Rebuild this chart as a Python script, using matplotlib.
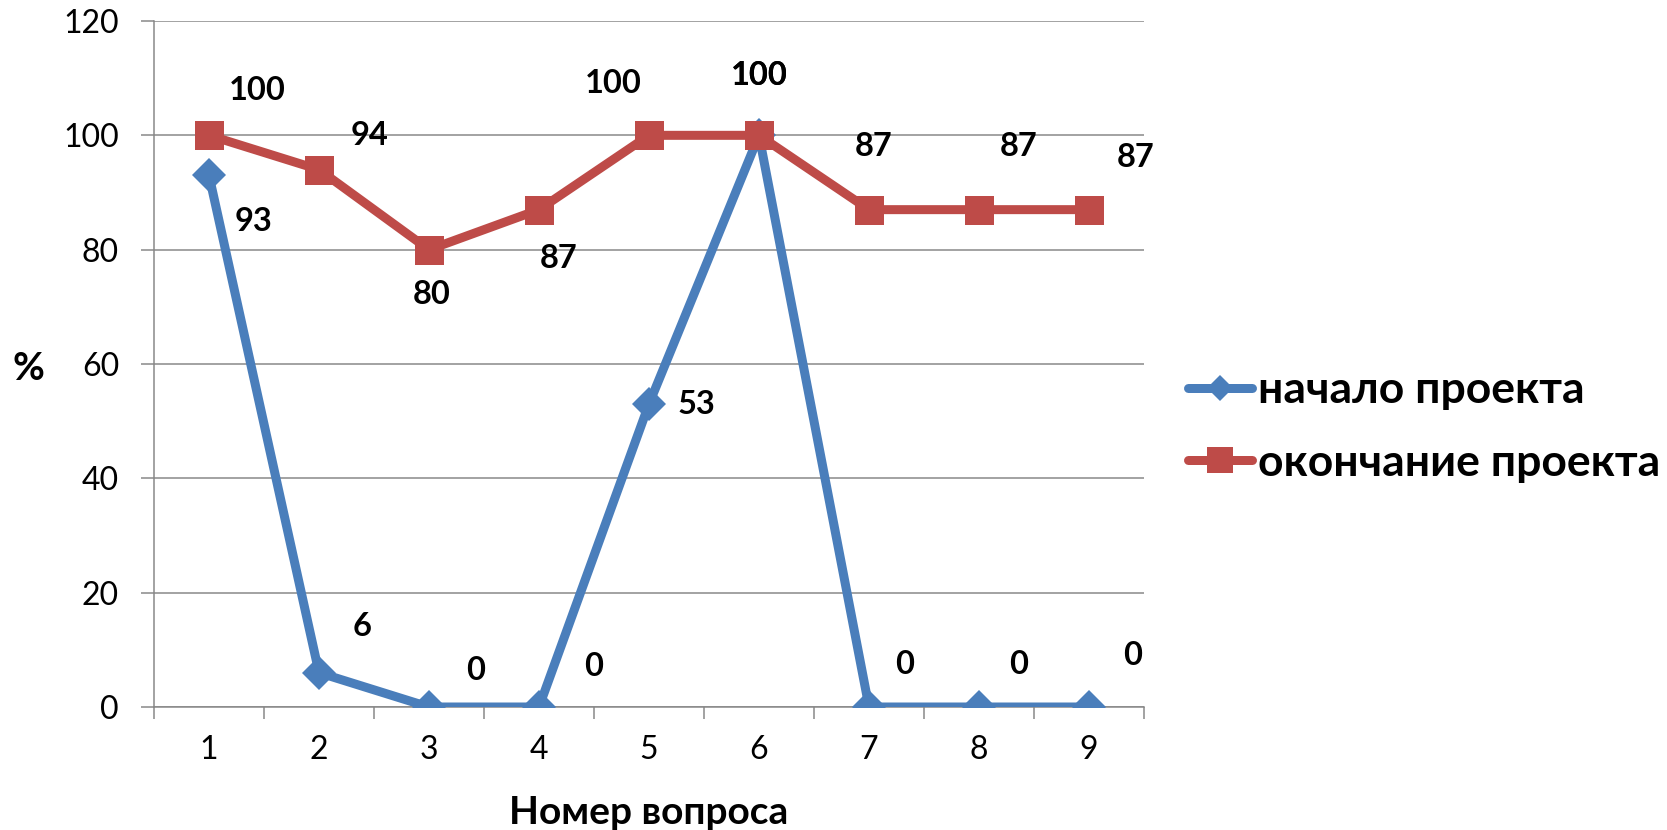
import matplotlib
matplotlib.use("Agg")
import matplotlib.pyplot as plt
from matplotlib.lines import Line2D

questions = [1, 2, 3, 4, 5, 6, 7, 8, 9]
start_vals = [93, 6, 0, 0, 53, 100, 0, 0, 0]
end_vals = [100, 94, 80, 87, 100, 100, 87, 87, 87]
series_names = ["начало проекта", "окончание проекта"]
x_title = "Номер вопроса"
y_title = "%"
y_ticks = [0, 20, 40, 60, 80, 100, 120]

# label offsets in pixels (dx right, dy down)
start_offsets = [(44, 46), (43, -46), (47, -37), (55, -41), (47, 0), (0, -60), (36, -43), (40, -43), (44, -52)]
end_offsets = [(48, -45), (51, -34), (3, 45), (20, 49), (-36, -52), (0, -60), (5, -63), (40, -63), (47, -52)]

plt.rcParams['font.family'] = ['Lato', 'Open Sans', 'DejaVu Sans']

BLUE = "#4A7EBB"
RED = "#BE4B48"
GRID = "#868686"
PX = 0.72  # points per pixel at dpi 100

fig = plt.figure(figsize=(16.67, 8.30), dpi=100)
ax = fig.add_axes([154/1667, 123/830, 990/1667, 686/830])

ax.plot(questions, start_vals, color=BLUE, lw=9*PX, marker='D', markersize=24*PX,
        markeredgewidth=0, solid_capstyle='round', zorder=3)
ax.plot(questions, end_vals, color=RED, lw=9*PX, marker='s', markersize=29*PX,
        markeredgewidth=0, zorder=4)

for q, v, (dx, dy) in zip(questions, start_vals, start_offsets):
    ax.annotate(str(v), (q, v), xytext=(dx*PX, -dy*PX), textcoords='offset points',
                ha='center', va='center', fontsize=23.5, fontweight='bold', color='black', zorder=5)
for q, v, (dx, dy) in zip(questions, end_vals, end_offsets):
    ax.annotate(str(v), (q, v), xytext=(dx*PX, -dy*PX), textcoords='offset points',
                ha='center', va='center', fontsize=23.5, fontweight='bold', color='black', zorder=6)

ax.set_xlim(0.5, 9.5)
ax.set_ylim(0, 120)
ax.set_yticks(y_ticks)
ax.set_xticks(questions)
ax.set_xticks([q - 0.5 for q in questions] + [questions[-1] + 0.5], minor=True)

ax.grid(axis='y', color=GRID, lw=1.5*PX, zorder=0)
ax.set_axisbelow(True)
for s in ['top', 'right']:
    ax.spines[s].set_visible(False)
for s in ['left', 'bottom']:
    ax.spines[s].set_color(GRID)
    ax.spines[s].set_linewidth(1.5*PX)

ax.tick_params(axis='y', which='major', length=13*PX, width=1.5*PX, color=GRID,
               labelsize=23, pad=22*PX)
ax.tick_params(axis='x', which='major', length=0, labelsize=23, pad=28*PX)
ax.tick_params(axis='x', which='minor', length=12*PX, width=1.5*PX, color=GRID)

ax.set_xlabel(x_title, fontsize=28, fontweight='bold')
ax.xaxis.set_label_coords(0.5, -(812-707)/686)
ax.xaxis.label.set_verticalalignment('center')
ax.set_ylabel(y_title, fontsize=28, fontweight='bold', rotation=0)
ax.yaxis.set_label_coords((28-154)/990, (707-368)/686)
ax.yaxis.label.set_verticalalignment('center')
ax.yaxis.label.set_horizontalalignment('center')

LEG_FS = 32
fs_px = LEG_FS / PX
handles = [
    Line2D([], [], color=BLUE, lw=9*PX, marker='D', markersize=19*PX, markeredgewidth=0, solid_capstyle='round'),
    Line2D([], [], color=RED, lw=9*PX, marker='s', markersize=27*PX, markeredgewidth=0, solid_capstyle='round'),
]
leg = fig.legend(handles, series_names, loc='center left', bbox_to_anchor=(1188/1667, 1-426.5/830),
                 frameon=False, prop={'size': LEG_FS, 'weight': 'bold'}, handlelength=64/fs_px,
                 handletextpad=6/fs_px, labelspacing=0.73, borderaxespad=0, borderpad=0)

fig.savefig("out.png", dpi=100)
